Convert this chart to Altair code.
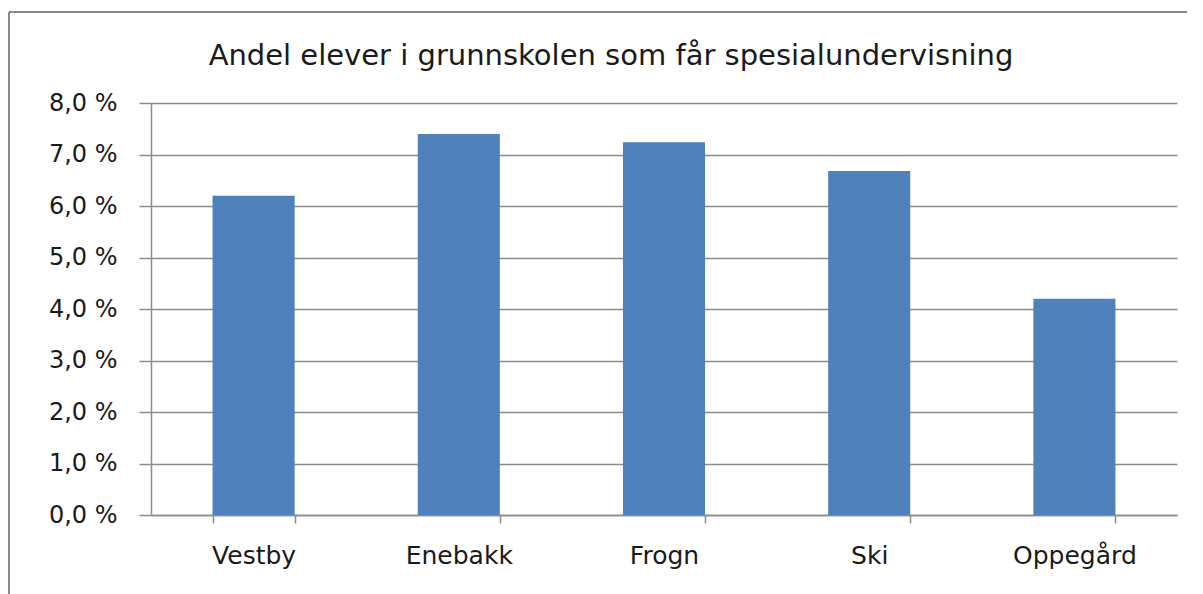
import altair as alt
import pandas as pd

categories = ["Vestby", "Enebakk", "Frogn", "Ski", "Oppegård"]
values = [6.2, 7.4, 7.24, 6.68, 4.2]
y_ticks = [0, 1, 2, 3, 4, 5, 6, 7, 8]
title_text = "Andel elever i grunnskolen som får spesialundervisning"

df = pd.DataFrame({"kommune": categories, "andel": values})

W, H = 1026, 412
FONT = "DejaVu Sans"
GRAY = "#8C8C8C"
one = pd.DataFrame({"b": [0]})

border_left = alt.Chart(one).mark_rule(color="#8A8A8A", strokeWidth=2).encode(
    x=alt.value(-142), y=alt.value(-91), y2=alt.value(H + 80),
)
border_top = alt.Chart(one).mark_rule(color="#8A8A8A", strokeWidth=2).encode(
    x=alt.value(-142), x2=alt.value(W + 10), y=alt.value(-91),
)

bars = alt.Chart(df).mark_bar(color="#4F81BD").encode(
    x=alt.X(
        "kommune:N",
        sort=categories,
        scale=alt.Scale(paddingInner=0.6, paddingOuter=0.3),
        axis=alt.Axis(
            title=None, labelAngle=0, tickBand="extent", tickSize=8,
            tickColor=GRAY, domainColor=GRAY, domainWidth=1.5, tickWidth=1.5,
            labelFont=FONT, labelFontSize=25, labelColor="#1a1a1a",
            labelPadding=20, grid=False,
        ),
    ),
    y=alt.Y(
        "andel:Q",
        scale=alt.Scale(domain=[0, 8]),
        axis=alt.Axis(
            title=None, values=y_ticks,
            labelExpr="replace(format(datum.value, '.1f'), '.', ',') + ' %'",
            tickSize=12, tickColor=GRAY, tickWidth=1.5,
            domainColor=GRAY, domainWidth=1.5,
            gridColor=GRAY, gridWidth=1.5,
            labelFont=FONT, labelFontSize=24, labelColor="#1a1a1a",
            labelPadding=22,
        ),
    ),
)

chart = alt.layer(border_left, border_top, bars).properties(
    width=W,
    height=H,
    padding={"left": 0, "top": 3, "right": 0, "bottom": 0},
    title=alt.TitleParams(
        text=title_text, font=FONT, fontSize=29, fontWeight="normal",
        color="#1a1a1a", anchor="middle", frame="bounds", offset=-60, dx=13,
    ),
).configure_view(strokeWidth=0)

chart.save("out.html", embed_options={"renderer": "svg", "actions": False})
